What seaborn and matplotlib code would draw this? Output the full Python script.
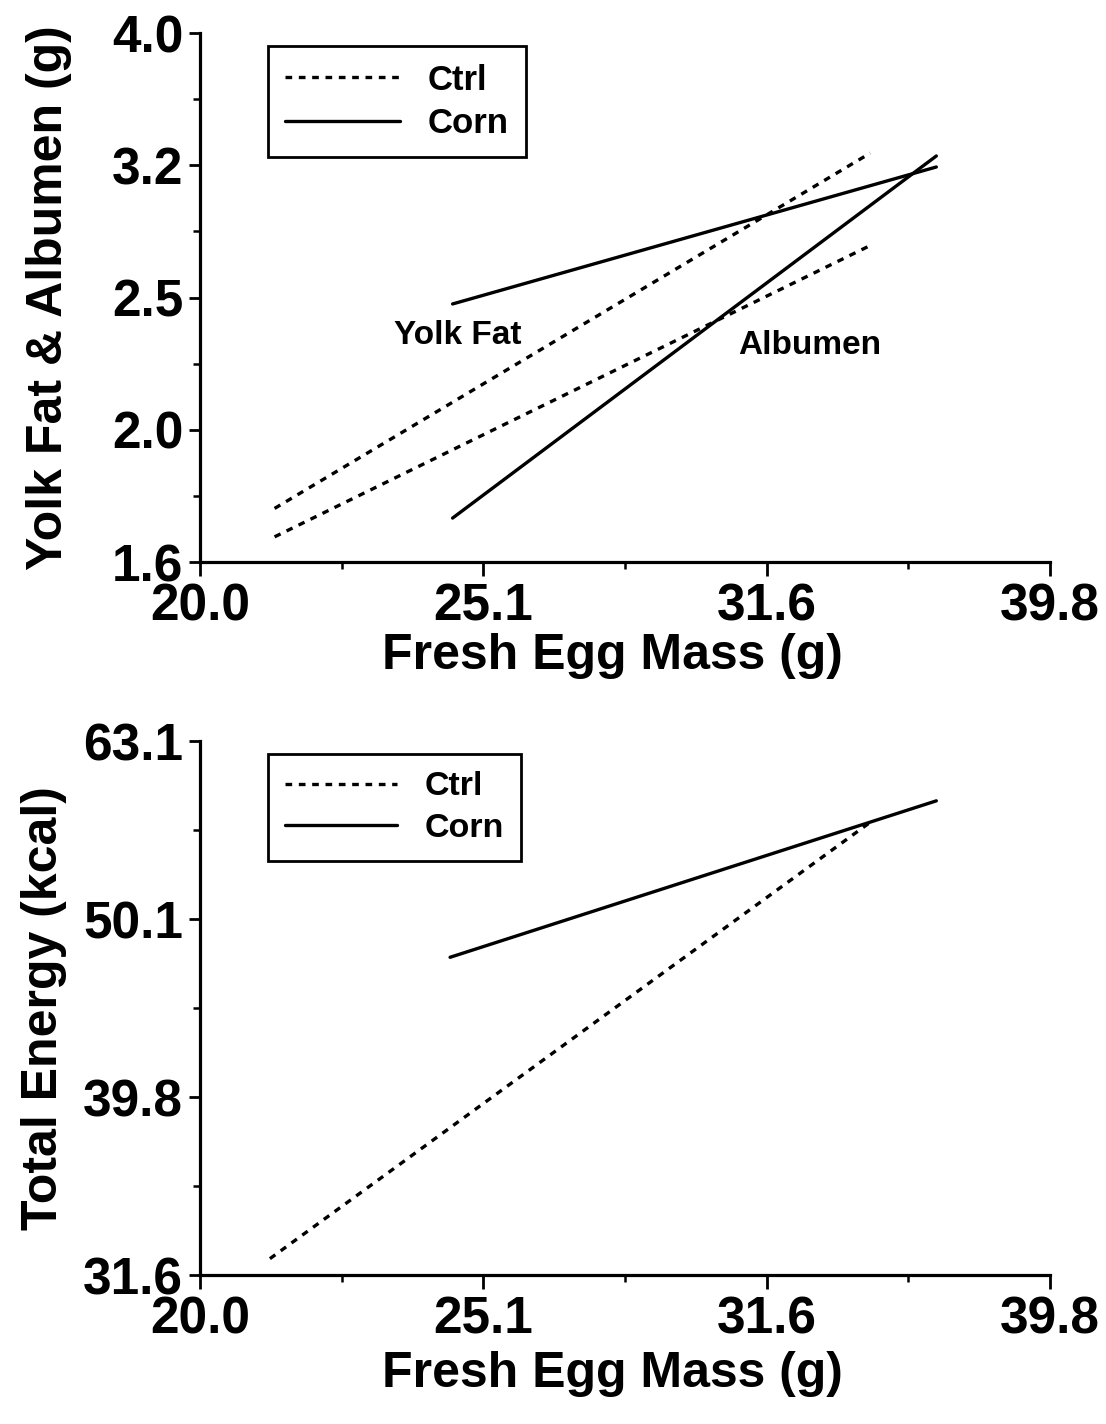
import numpy as np
import pandas as pd
import matplotlib
matplotlib.use("Agg")
import matplotlib.pyplot as plt
from matplotlib.ticker import FixedLocator, NullFormatter
from matplotlib.lines import Line2D
import seaborn as sns

# ---------------- data ----------------
# Top panel: regression lines (endpoints) on log-log axes
top_series = ["Ctrl Yolk Fat", "Ctrl Albumen", "Corn Yolk Fat", "Corn Albumen"]
top_diet = ["Ctrl", "Ctrl", "Corn", "Corn"]
top_x = [[21.2, 34.4], [21.2, 34.4], [24.5, 36.3], [24.5, 36.3]]
top_y = [[1.74, 3.23], [1.656, 2.75], [2.484, 3.153], [1.711, 3.214]]

# Bottom panel: total energy
bot_series = ["Ctrl", "Corn"]
bot_diet = ["Ctrl", "Corn"]
bot_x = [[21.12, 34.4], [24.45, 36.3]]
bot_y = [[32.3, 56.8], [47.7, 58.4]]

x_tick_labels = ["20.0", "25.1", "31.6", "39.8"]
x_tick_exp = [1.3, 1.4, 1.5, 1.6]
top_y_labels = ["1.6", "2.0", "2.5", "3.2", "4.0"]
top_y_exp = [0.2, 0.3, 0.4, 0.5, 0.6]
bot_y_labels = ["31.6", "39.8", "50.1", "63.1"]
bot_y_exp = [1.5, 1.6, 1.7, 1.8]


def build(series, diet, xs, ys):
    rows = []
    for s, d, xx, yy in zip(series, diet, xs, ys):
        for a, b in zip(xx, yy):
            rows.append({"series": s, "diet": d, "x": a, "y": b})
    return pd.DataFrame(rows)


df_top = build(top_series, top_diet, top_x, top_y)
df_bot = build(bot_series, bot_diet, bot_x, bot_y)

sns.set_theme(style="ticks")
plt.rcParams["font.family"] = ["Liberation Sans", "DejaVu Sans"]
plt.rcParams["text.color"] = "black"
plt.rcParams["axes.labelcolor"] = "black"
plt.rcParams["xtick.color"] = "black"
plt.rcParams["ytick.color"] = "black"

fig = plt.figure(figsize=(11.06, 14.24), dpi=100)
ax1 = fig.add_axes([0.1808, 0.6053, 0.7685, 0.3715])
ax2 = fig.add_axes([0.1808, 0.1046, 0.7685, 0.3750])

dashes = {"Ctrl": (2, 2), "Corn": ""}
LW = 2.4

for ax, df in [(ax1, df_top), (ax2, df_bot)]:
    sns.lineplot(data=df, x="x", y="y", units="series", estimator=None,
                 style="diet", dashes=dashes, color="black", linewidth=LW,
                 sort=False, legend=False, ax=ax)

TICK_FS = 37
LAB_FS = 36


def style_axis(ax, yexp, ylabels, ylabel, xlab_y, ylab_x, leg_fs):
    ax.set_xscale("log")
    ax.set_yscale("log")
    ax.set_xlim(10 ** x_tick_exp[0], 10 ** x_tick_exp[-1])
    ax.set_ylim(10 ** yexp[0], 10 ** yexp[-1])
    ax.xaxis.set_major_locator(FixedLocator([10 ** e for e in x_tick_exp]))
    ax.set_xticklabels(x_tick_labels, fontweight="bold")
    ax.xaxis.set_minor_locator(FixedLocator(
        [10 ** (e + 0.05) for e in x_tick_exp[:-1]]))
    ax.xaxis.set_minor_formatter(NullFormatter())
    ax.yaxis.set_major_locator(FixedLocator([10 ** e for e in yexp]))
    ax.set_yticklabels(ylabels, fontweight="bold")
    ax.yaxis.set_minor_locator(FixedLocator(
        [10 ** (e + 0.05) for e in yexp[:-1]]))
    ax.yaxis.set_minor_formatter(NullFormatter())
    sns.despine(ax=ax)
    for sp in ["left", "bottom"]:
        ax.spines[sp].set_linewidth(2.3)
        ax.spines[sp].set_color("black")
    ax.tick_params(axis="x", which="major", direction="out", length=10,
                   width=2.0, labelsize=TICK_FS, colors="black", pad=5)
    ax.tick_params(axis="y", which="major", direction="out", length=8,
                   width=2.0, labelsize=TICK_FS, colors="black", pad=4)
    ax.tick_params(which="minor", direction="out", length=5, width=1.8,
                   colors="black")
    ax.set_xlabel("Fresh Egg Mass (g)", fontsize=LAB_FS, fontweight="bold")
    ax.set_ylabel(ylabel, fontsize=LAB_FS, fontweight="bold")
    ax.xaxis.label.set_va("center")
    ax.yaxis.label.set_va("center")
    ax.xaxis.set_label_coords(0.485, xlab_y)
    ax.yaxis.set_label_coords(ylab_x, 0.5)
    handles = [Line2D([], [], color="black", lw=LW, dashes=(2, 2)),
               Line2D([], [], color="black", lw=LW)]
    leg = ax.legend(handles, ["Ctrl", "Corn"], loc="upper left",
                    bbox_to_anchor=(0.08, 0.975), frameon=True,
                    prop={"size": leg_fs, "weight": "bold"},
                    fancybox=False, edgecolor="black", handlelength=3.3,
                    handletextpad=0.8, borderpad=0.5, labelspacing=0.3,
                    borderaxespad=0.0)
    leg.get_frame().set_linewidth(2.0)
    leg.get_frame().set_alpha(1)


style_axis(ax1, top_y_exp, top_y_labels, "Yolk Fat & Albumen (g)",
           -0.178, -0.178, 25)
style_axis(ax2, bot_y_exp, bot_y_labels, "Total Energy (kcal)",
           -0.186, -0.184, 24.5)

ax1.text(24.6, 2.35, "Yolk Fat", fontsize=24, fontweight="bold",
         ha="center", va="center")
ax1.text(32.75, 2.31, "Albumen", fontsize=24, fontweight="bold",
         ha="center", va="center")

fig.savefig("out.png", dpi=100)
